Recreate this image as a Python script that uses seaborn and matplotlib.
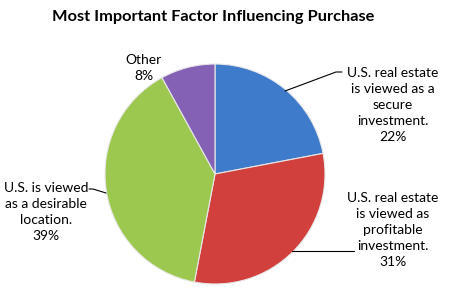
import matplotlib
matplotlib.use("Agg")
import matplotlib.pyplot as plt
import seaborn as sns

labels = [
    "U.S. real estate\nis viewed as a\nsecure\ninvestment.",
    "U.S. real estate\nis viewed as\nprofitable\ninvestment.",
    "U.S. is viewed\nas a desirable\nlocation.",
    "Other",
]
values = [22, 31, 39, 8]
colors = ["#3F7BCB", "#D1403C", "#9DC850", "#8461B5"]
title = "Most Important Factor Influencing Purchase"

sns.set_theme(style="white")
plt.rcParams['font.family'] = ['Lato', 'DejaVu Sans']

fig = plt.figure(figsize=(4.49, 2.96), dpi=100)
fig.patch.set_facecolor("white")
ax = fig.add_axes([105/449, 12/296, 220/449, 220/296])
ax.pie(values, colors=colors, startangle=90, counterclock=False, radius=1,
       wedgeprops=dict(edgecolor="#e8e8e8", linewidth=0.8))
ax.set_xlim(-1, 1)
ax.set_ylim(-1, 1)
ax.set_aspect("equal")
ax.axis("off")

def px(x, y):
    return ((x - 216) / 110, (172 - y) / 110)

texts = [f"{l}\n{v}%" for l, v in zip(labels, values)]
pos = [px(394, 103), px(394, 228), px(47, 210), px(145, 66)]
for t, (x, y) in zip(texts, pos):
    ax.text(x, y, t, ha="center", va="center", fontsize=10, color="black",
            linespacing=1.42, clip_on=False)

leaders = [
    [(286, 89), (337, 70), (343, 70)],
    [(293, 249), (355, 249)],
    [(90, 187), (94, 187), (107, 191)],
]
for seg in leaders:
    xs, ys = zip(*[px(a, b) for a, b in seg])
    ax.plot(xs, ys, color="black", lw=0.8, clip_on=False)

fig.text(213/449, 1 - 17/296, title, ha="center", va="center",
         fontsize=11.8, fontweight="bold", color="black")

fig.savefig("out.png", dpi=100)
